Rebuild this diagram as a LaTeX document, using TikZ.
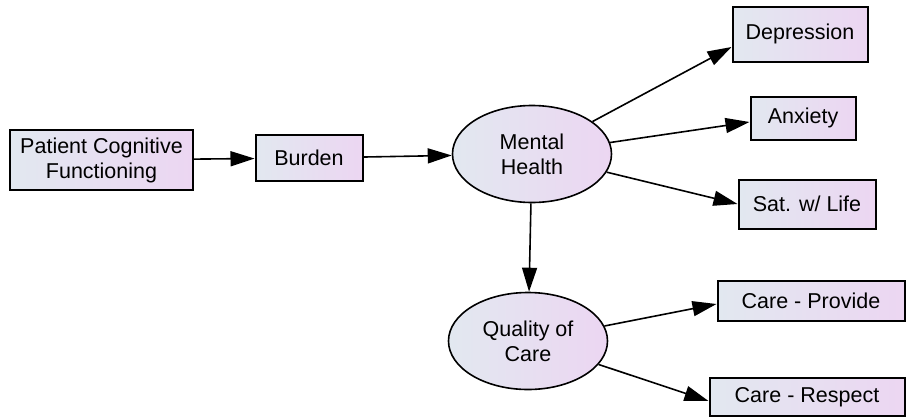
\documentclass[tikz,border=0pt]{standalone}
\usepackage{fontspec}
\setmainfont{Liberation Sans}
\usetikzlibrary{shapes.geometric, arrows.meta}
\definecolor{fillleft}{RGB}{226,232,240}
\definecolor{fillright}{RGB}{236,214,242}

\begin{document}
\begin{tikzpicture}[x=1pt,y=-1pt,->,>={Triangle[length=24pt,width=15pt]},line width=1.6pt,
        font=\fontsize{21.5}{25}\selectfont,
        obs/.style={draw,rectangle,line width=2pt,inner sep=0pt,align=center,left color=fillleft,right color=fillright},
        latent/.style={draw,ellipse,line width=1.6pt,inner sep=0pt,align=center,left color=fillleft,right color=fillright,minimum width=159pt,minimum height=97pt}]
                \useasboundingbox (0,0) rectangle (906,418);
                \node[obs, minimum width=183pt, minimum height=60pt] (pcf) at (101.5,160) {Patient Cognitive\\Functioning};
                \node[obs, minimum width=107pt, minimum height=46pt] (burden) at (309,158) {Burden};
                \node[latent] (mh) at (532,154) {Mental\\Health};
                \node[obs, minimum width=135pt, minimum height=55pt] (dep) at (800,34) {Depression};
                \node[obs, minimum width=105pt, minimum height=43pt] (anx) at (803,118) {Anxiety};
                \node[obs, minimum width=137pt, minimum height=49pt] (sat) at (807,204) {Sat. w/ Life};
                \node[latent] (qoc) at (528,341) {Quality of\\Care};
                \node[obs, minimum width=187pt, minimum height=40pt] (prov) at (811,301) {Care - Provide};
                \node[obs, minimum width=195pt, minimum height=38pt] (resp) at (807,397) {Care - Respect};
                \path
                (pcf) edge (burden)
                (burden) edge (mh)
                (mh) edge ([yshift=-13pt]dep.west)
                     edge ([yshift=-4pt]anx.west)
                     edge (sat.west)
                     edge (qoc)
                (qoc) edge ([yshift=-3pt]prov.west)
                      edge ([yshift=-4pt]resp.west)
                ;
            \end{tikzpicture}
\end{document}
